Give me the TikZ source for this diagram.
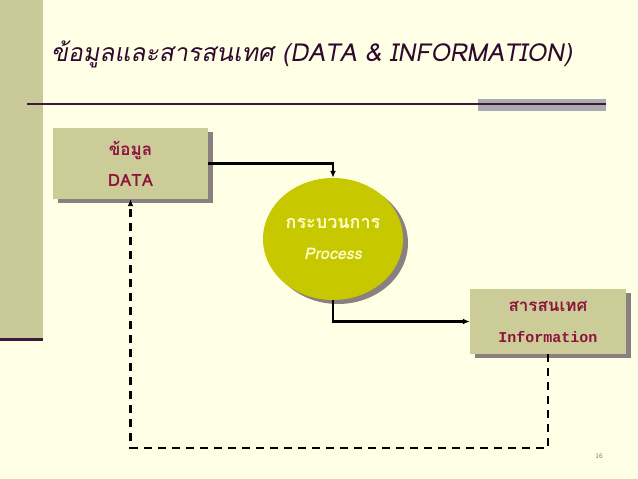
\documentclass[tikz,border=0pt]{standalone}
\usepackage{fontspec}
\usetikzlibrary{arrows.meta,shapes.geometric,shadows}
\newfontfamily\titlefont[Script=Thai,FakeSlant=0.18]{Loma}
\newfontfamily\thaifont[Script=Thai]{Loma}
\newfontfamily\thaislant[Script=Thai,FakeSlant=0.2]{Loma}
\newfontfamily\infofont{Liberation Mono}
\definecolor{bgc}{RGB}{255,255,230}
\definecolor{stripc}{RGB}{201,201,153}
\definecolor{darkp}{RGB}{58,28,58}
\definecolor{barc}{RGB}{170,170,176}
\definecolor{titlec}{RGB}{46,10,46}
\definecolor{boxc}{RGB}{204,204,153}
\definecolor{shadc}{RGB}{138,128,128}
\definecolor{labc}{RGB}{140,20,60}
\definecolor{procc}{RGB}{200,200,0}
\definecolor{proctext}{RGB}{255,255,205}
\tikzset{
  boxnode/.style={rectangle, fill=boxc, inner sep=0pt, align=center,
    text=labc, font=\thaifont\bfseries\fontsize{17}{31}\selectfont,
    drop shadow={shadow xshift=5pt, shadow yshift=-4pt, opacity=1, fill=shadc}},
  procnode/.style={ellipse, fill=procc, inner sep=0pt, align=center,
    minimum width=140pt, minimum height=122pt, text=proctext,
    font=\thaifont\bfseries\fontsize{18}{31}\selectfont,
    drop shadow={shadow xshift=5pt, shadow yshift=-4pt, opacity=1, fill=shadc}},
  conn/.style={draw=black, line width=2.2pt, -{Latex[length=7pt,width=6pt]}},
  dashconn/.style={draw=black, line width=2.2pt, dash pattern=on 8pt off 6pt,
    -{Latex[length=7pt,width=6pt]}}
}
\begin{document}
\begin{tikzpicture}[x=1pt,y=-1pt]
\useasboundingbox (0,0) rectangle (638,479);
\fill[bgc] (0,0) rectangle (638,479);
\fill[stripc] (0,0) rectangle (43,340);
\draw[darkp, line width=3pt] (0,339) -- (43,339);
\fill[barc] (478,99) rectangle (606,111);
\draw[darkp, line width=1.5pt] (27,104) -- (606,104);
\node[anchor=base west, inner sep=0pt, text=titlec] (title) at (51,61)
  {\resizebox{521pt}{!}{\titlefont\fontsize{30}{34}\selectfont ข้อมูลและสารสนเทศ (DATA \& INFORMATION)}};
\node[boxnode, minimum width=155pt, minimum height=71pt] (data) at (130.5,163.5)
  {ข้อมูล\\DATA};
\node[procnode] (proc) at (333,239)
  {กระบวนการ\\{\thaislant\fontsize{16}{20}\selectfont Process}};
\node[boxnode, minimum width=156pt, minimum height=65pt] (info) at (548,321.5)
  {สารสนเทศ\\{\infofont\bfseries\fontsize{15}{18}\selectfont Information}};
\coordinate (dl) at (130.5,448);
\node[inner sep=0pt, text=gray, font=\sffamily\fontsize{7}{8}\selectfont] (pg) at (599,456) {16};
\draw[conn] (data.east) -| (proc.north);
\draw[conn] (proc.south) |- (info.west);
\draw[dashconn] (info.south) |- (dl) -- (data.south);
\end{tikzpicture}
\end{document}
